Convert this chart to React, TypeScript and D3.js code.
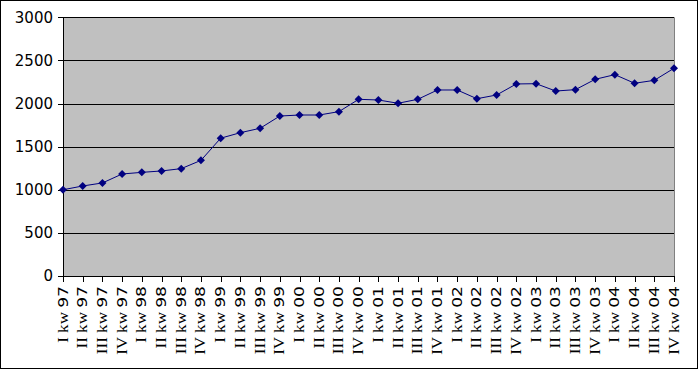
import React from "react";
import * as d3 from "d3";

const years = ["97", "98", "99", "00", "01", "02", "03", "04"];
const quarters = ["I", "II", "III", "IV"];
const categories: { q: string; y: string }[] = years.flatMap((y) => quarters.map((q) => ({ q, y })));
const values = [
  1000, 1044, 1079, 1183, 1202, 1218, 1245, 1341,
  1598, 1662, 1713, 1855, 1867, 1867, 1906, 2049,
  2041, 2003, 2049, 2157, 2157, 2056, 2099, 2227,
  2230, 2145, 2161, 2281, 2335, 2235, 2269, 2409,
];
const yTicks = [0, 500, 1000, 1500, 2000, 2500, 3000];

const W = 699;
const H = 370;
const left = 63;
const right = 674;
const top = 17.3;
const bottom = 276;

export default function App() {
  const labels = categories.map((c) => `${c.q} kw ${c.y}`);
  const x = d3.scalePoint<string>().domain(labels).range([left, right]);
  const y = d3.scaleLinear().domain([0, 3000]).range([bottom, top]);
  const line = d3
    .line<number>()
    .x((_, i) => x(labels[i]) as number)
    .y((d) => y(d));
  const diamond = (cx: number, cy: number, r: number) =>
    `M${cx},${cy - r}L${cx + r},${cy}L${cx},${cy + r}L${cx - r},${cy}Z`;

  return (
    <svg
      width={W}
      height={H}
      style={{ position: "absolute", left: 0, top: 0, background: "#fff" }}
    >
      <rect x={0.5} y={0.5} width={697} height={368} fill="#fff" stroke="#000" />
      <rect x={left} y={top} width={right - left} height={bottom - top} fill="#C0C0C0" />
      <line x1={right + 0.5} x2={right + 0.5} y1={top} y2={bottom} stroke="#808080" />
      {yTicks.map((t) => (
        <g key={t}>
          <line
            x1={left - 5}
            x2={right}
            y1={Math.round(y(t)) + 0.5}
            y2={Math.round(y(t)) + 0.5}
            stroke="#000"
          />
          <text
            x={53}
            y={y(t)}
            dy="0.36em"
            textAnchor="end"
            fontFamily="DejaVu Sans"
            fontSize={15}
            fill="#000"
          >
            {t}
          </text>
        </g>
      ))}
      <line x1={left + 0.5} x2={left + 0.5} y1={top} y2={bottom + 0.5} stroke="#000" />
      {labels.map((l, i) => {
        const px = Math.round(x(l) as number) + 0.5;
        return (
          <g key={l}>
            <line x1={px} x2={px} y1={bottom} y2={bottom + 6} stroke="#000" />
            <text
              transform={`translate(${(x(l) as number) + 4.5},286) rotate(-90) scale(1.22,1)`}
              textAnchor="end"
              fontSize={14}
              fill="#000"
            >
              <tspan fontFamily="Liberation Serif">{`${categories[i].q} kw `}</tspan>
              <tspan fontFamily="DejaVu Sans">{categories[i].y}</tspan>
            </text>
          </g>
        );
      })}
      <path d={line(values) || ""} fill="none" stroke="#000080" strokeWidth={1} />
      {values.map((v, i) => (
        <path key={i} d={diamond(x(labels[i]) as number, y(v), 4)} fill="#000080" />
      ))}
    </svg>
  );
}
